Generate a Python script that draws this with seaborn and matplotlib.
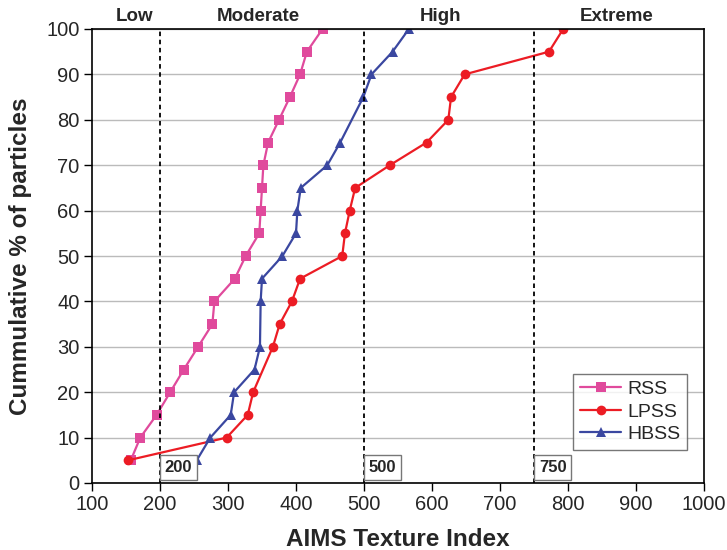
import matplotlib
matplotlib.use("Agg")
import matplotlib.pyplot as plt
import seaborn as sns
import pandas as pd

# ---- data ----
rss_x = [157, 171, 195, 215, 235, 256, 277, 280, 310, 326, 346, 348, 350, 352, 359, 375, 391, 406, 416, 439]
rss_y = [5, 10, 15, 20, 25, 30, 35, 40, 45, 50, 55, 60, 65, 70, 75, 80, 85, 90, 95, 100]
lpss_x = [153, 298, 329, 337, 366, 376, 394, 406, 468, 472, 479, 487, 538, 592, 624, 628, 648, 772, 793]
lpss_y = [5, 10, 15, 20, 30, 35, 40, 45, 50, 55, 60, 65, 70, 75, 80, 85, 90, 95, 100]
hbss_x = [254, 274, 304, 309, 339, 347, 348, 350, 380, 400, 402, 407, 446, 465, 499, 511, 542, 566]
hbss_y = [5, 10, 15, 20, 25, 30, 40, 45, 50, 55, 60, 65, 70, 75, 85, 90, 95, 100]
series_names = ["RSS", "LPSS", "HBSS"]
thresholds = [200, 500, 750]
zone_labels = ["Low", "Moderate", "High", "Extreme"]
zone_label_x = [163, 345, 612, 872]

df = pd.concat([
    pd.DataFrame({"x": rss_x, "y": rss_y, "s": "RSS"}),
    pd.DataFrame({"x": lpss_x, "y": lpss_y, "s": "LPSS"}),
    pd.DataFrame({"x": hbss_x, "y": hbss_y, "s": "HBSS"}),
], ignore_index=True)

sns.set_theme(style="white")
plt.rcParams["font.family"] = ["Liberation Sans", "DejaVu Sans"]

fig = plt.figure(figsize=(7.27, 5.5), dpi=100)
ax = fig.add_axes([92/727, 1-483/550, (704-92)/727, (483-29)/550])

palette = {"RSS": "#E04A9C", "LPSS": "#EC1C24", "HBSS": "#3A47A0"}
markers = {"RSS": "s", "LPSS": "o", "HBSS": "^"}
sns.lineplot(data=df, x="x", y="y", hue="s", style="s", hue_order=series_names,
             style_order=series_names, palette=palette, markers=markers, dashes=False,
             estimator=None, sort=False, ax=ax, lw=1.6, markersize=7,
             markeredgewidth=0)

ax.set_xlim(100, 1000)
ax.set_ylim(0, 100)
ax.set_xticks(range(100, 1001, 100))
ax.set_yticks(range(0, 101, 10))
ax.yaxis.grid(True, color="#BBBBBB", lw=1)
ax.xaxis.grid(False)
for sp in ax.spines.values():
    sp.set_color("black")
    sp.set_linewidth(1.2)
ax.tick_params(axis="both", direction="out", length=6, width=1, color="black",
               labelsize=14.5, pad=3, bottom=True, left=True)

ax.set_xlabel("AIMS Texture Index", fontsize=17.5, fontweight="bold", labelpad=10)
ax.set_ylabel("Cummulative % of particles", fontsize=17.5, fontweight="bold", labelpad=10)

for t in thresholds:
    ax.axvline(t, color="black", ls=(0, (2.5, 2)), lw=1.3)
    ax.text(t + 7, 3.5, str(t), fontsize=12, fontweight="bold", ha="left", va="center",
            bbox=dict(boxstyle="square,pad=0.3", fc="white", ec="#777777", lw=1))

for lab, xv in zip(zone_labels, zone_label_x):
    ax.text(xv, 100.9, lab, fontsize=13.5, fontweight="bold", ha="center", va="bottom")

leg = ax.legend(title=None, loc="lower right", bbox_to_anchor=(0.972, 0.073),
                borderaxespad=0, fontsize=14, frameon=True, fancybox=False,
                handlelength=2.1, borderpad=0.35, labelspacing=0.25, handletextpad=0.3)
leg.get_frame().set_edgecolor("#555555")
leg.get_frame().set_linewidth(1)

fig.savefig("out.png", dpi=100)
